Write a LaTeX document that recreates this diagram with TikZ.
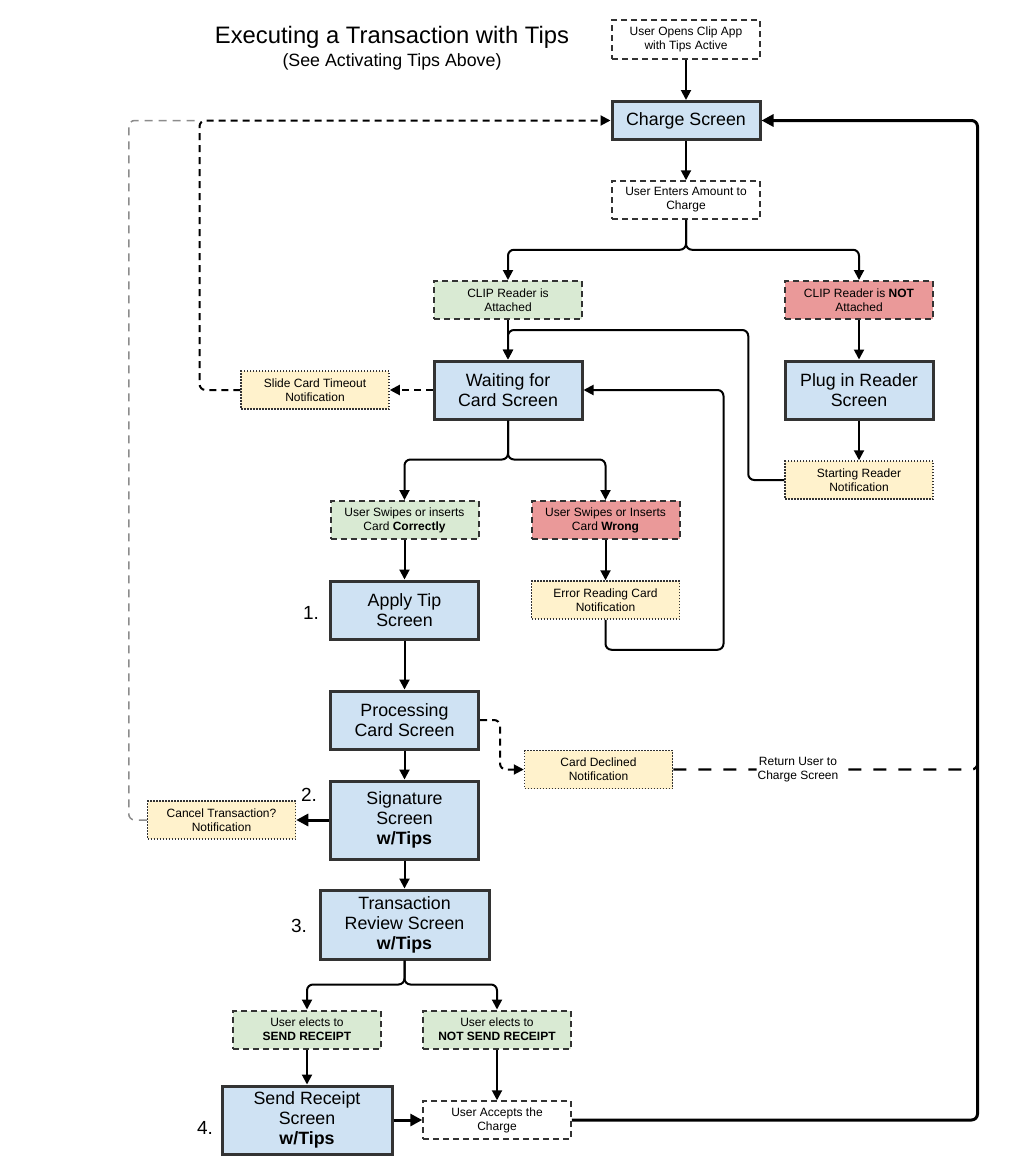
\documentclass[tikz,border=0pt]{standalone}
\usepackage{fontspec}
\setmainfont{Liberation Sans}
\usepackage{tikz}
\usetikzlibrary{arrows.meta,calc}

\definecolor{screenblue}{HTML}{CFE2F3}
\definecolor{okgreen}{HTML}{D9EAD3}
\definecolor{badred}{HTML}{EA9999}
\definecolor{notecream}{HTML}{FFF2CC}
\definecolor{edgegray}{HTML}{333333}
\definecolor{loopgray}{HTML}{8C8C8C}

\newcommand{\smalltext}{\fontsize{12}{14}\selectfont}
\newcommand{\bigtext}{\fontsize{17.8}{20}\selectfont}
\newcommand{\numtext}{\fontsize{19}{22}\selectfont}
\newcommand{\titletext}{\fontsize{23.8}{27}\selectfont}

\begin{document}
\begin{tikzpicture}
  [
    ->,
    >={Triangle[length=10pt,width=10pt]},
    link/.style={line width=2pt, rounded corners=6pt},
    heavy link/.style={line width=3pt, rounded corners=6pt, >={Triangle[length=12pt,width=12pt]}},
    back link/.style={line width=2pt, rounded corners=6pt, dash pattern=on 7pt off 5pt},
    gray link/.style={-, line width=1.5pt, rounded corners=6pt, draw=loopgray, dash pattern=on 8pt off 6pt},
    return link/.style={-, line width=2.3pt, rounded corners=6pt, dash pattern=on 13pt off 12pt},
    screen node/.style={draw=edgegray, line width=3pt, fill=screenblue, align=center,
      font=\bigtext, inner sep=2pt, minimum width=148pt, minimum height=38pt},
    cond node/.style={draw=edgegray, line width=2pt, dash pattern=on 6pt off 4pt, align=center,
      font=\smalltext, inner sep=2pt, minimum width=148pt, minimum height=38pt},
    yes node/.style={cond node, fill=okgreen},
    no node/.style={cond node, fill=badred},
    user node/.style={cond node, line width=1.5pt, fill=white},
    note node/.style={draw=edgegray, line width=1.5pt, dash pattern=on 1.5pt off 1.5pt, fill=notecream,
      align=center, font=\smalltext, inner sep=2pt, minimum width=148pt, minimum height=38pt},
    num node/.style={font=\numtext, inner sep=0pt},
    return label/.style={fill=white, align=center, font=\smalltext, inner sep=1pt}
    ]

  \useasboundingbox (0,0) rectangle (1013pt,-1175pt);

  \node[font=\titletext] (title) at (392pt,-37pt) {Executing a Transaction with Tips};
  \node[font=\bigtext] (subtitle) [below of=title, node distance=25pt] {(See Activating Tips Above)};

  \node[user node, minimum height=39pt] (start) at (686pt,-39.5pt) {User Opens Clip App\\with Tips Active};
  \node[screen node] (charge) [below of=start, node distance=81pt] {Charge Screen};
  \node[user node] (amount) [below of=charge, node distance=79.5pt] {User Enters Amount to\\Charge};
  \node[yes node] (attached) [below of=amount, node distance=100pt, xshift=-178pt] {CLIP Reader is\\Attached};
  \node[no node] (notattached) [right of=attached, node distance=351pt] {CLIP Reader is \textbf{NOT}\\Attached};
  \node[screen node, minimum height=58pt] (waiting) [below of=attached, node distance=90pt] {Waiting for\\Card Screen};
  \node[screen node, minimum height=58pt] (plug) [below of=notattached, node distance=90pt] {Plug in Reader\\Screen};
  \node[note node] (timeout) [left of=waiting, node distance=193pt] {Slide Card Timeout\\Notification};
  \node[note node] (startreader) [below of=plug, node distance=90pt] {Starting Reader\\Notification};
  \node[yes node] (correct) [below of=waiting, node distance=130pt, xshift=-103.5pt] {User Swipes or inserts\\Card \textbf{Correctly}};
  \node[no node] (wrong) [right of=correct, node distance=201pt] {User Swipes or Inserts\\Card \textbf{Wrong}};
  \node[screen node, minimum height=58pt] (applytip) [below of=correct, node distance=90pt] {Apply Tip\\Screen};
  \node[note node] (errread) [below of=wrong, node distance=80pt] {Error Reading Card\\Notification};
  \node[screen node, minimum height=58pt] (processing) [below of=applytip, node distance=110pt] {Processing\\Card Screen};
  \node[note node] (declined) [right of=processing, node distance=194pt, yshift=-49.5pt] {Card Declined\\Notification};
  \node[screen node, minimum height=78pt] (signature) [below of=processing, node distance=100pt] {Signature\\Screen\\\textbf{w/Tips}};
  \node[note node] (cancel) [left of=signature, node distance=183pt] {Cancel Transaction?\\Notification};
  \node[screen node, minimum width=169pt, minimum height=69pt] (review) [below of=signature, node distance=104.5pt] {Transaction\\Review Screen\\\textbf{w/Tips}};
  \node[yes node] (send) [below of=review, node distance=105pt, xshift=-97.5pt] {User elects to\\\textbf{SEND RECEIPT}};
  \node[yes node] (notsend) [right of=send, node distance=190pt] {User elects to\\\textbf{NOT SEND RECEIPT}};
  \node[screen node, minimum width=170pt, minimum height=68pt] (sendreceipt) [below of=send, node distance=90.5pt] {Send Receipt\\Screen\\\textbf{w/Tips}};
  \node[user node] (accepts) [below of=notsend, node distance=90.5pt] {User Accepts the\\Charge};

  \node[num node] (step1) [left of=applytip, node distance=93.5pt, yshift=-2.5pt] {1.};
  \node[num node] (step2) [left of=signature, node distance=95.5pt, yshift=25.5pt] {2.};
  \node[num node] (step3) [left of=review, node distance=105.5pt, yshift=-1pt] {3.};
  \node[num node] (step4) [left of=sendreceipt, node distance=102pt, yshift=-7.5pt] {4.};

  \coordinate (tcorner) at ($(charge.west)+(-411pt,0)$);
  \coordinate (railtop) at ($(charge.east)+(216pt,0)$);

  % main flow
  \draw[link] (start) -- (charge);
  \draw[link] (charge) -- (amount);
  \draw[link] (amount.south) -- ++(0,-30pt) -| (attached.north);
  \draw[link] (amount.south) -- ++(0,-30pt) -| (notattached.north);
  \draw[link] (attached) -- (waiting);
  \draw[link] (notattached) -- (plug);
  \draw[link] (plug) -- (startreader);
  \draw[link] (startreader.west) -- ++(-36pt,0) -- ++(0,150pt) -| (waiting.north);
  \draw[link] (waiting.south) -- ++(0,-39pt) -| (correct.north);
  \draw[link] (waiting.south) -- ++(0,-39pt) -| (wrong.north);
  \draw[link] (correct) -- (applytip);
  \draw[link] (wrong) -- (errread);
  \draw[link] (errread.south) -- ++(0,-30pt) -- ++(118pt,0) |- (waiting.east);
  \draw[link] (applytip) -- (processing);
  \draw[link] (processing) -- (signature);
  \draw[link] (signature) -- (review);
  \draw[link] (review.south) -- ++(0,-24pt) -| (send.north);
  \draw[link] (review.south) -- ++(0,-24pt) -| (notsend.north);
  \draw[link] (send) -- (sendreceipt);
  \draw[link] (notsend) -- (accepts);

  % ways back
  \draw[back link] (waiting) -- (timeout);
  \draw[back link] (timeout.west) -| (tcorner) -- (charge.west);
  \draw[back link] (processing.east) -- ++(20pt,0) |- (declined.west);
  \draw[gray link] (cancel.west) -- ++(-18pt,0) |- (tcorner);
  \draw[heavy link] (signature) -- (cancel);
  \draw[heavy link] (sendreceipt.east) -- (sendreceipt.east -| accepts.west);
  \draw[heavy link] (accepts.east) -| (railtop) -- (charge.east);
  \draw[return link] (declined.east) -- node[return label, pos=0.41] (returnnote) {Return User to\\Charge Screen} (declined.east -| railtop) -- ++(0,10pt);
\end{tikzpicture}
\end{document}
